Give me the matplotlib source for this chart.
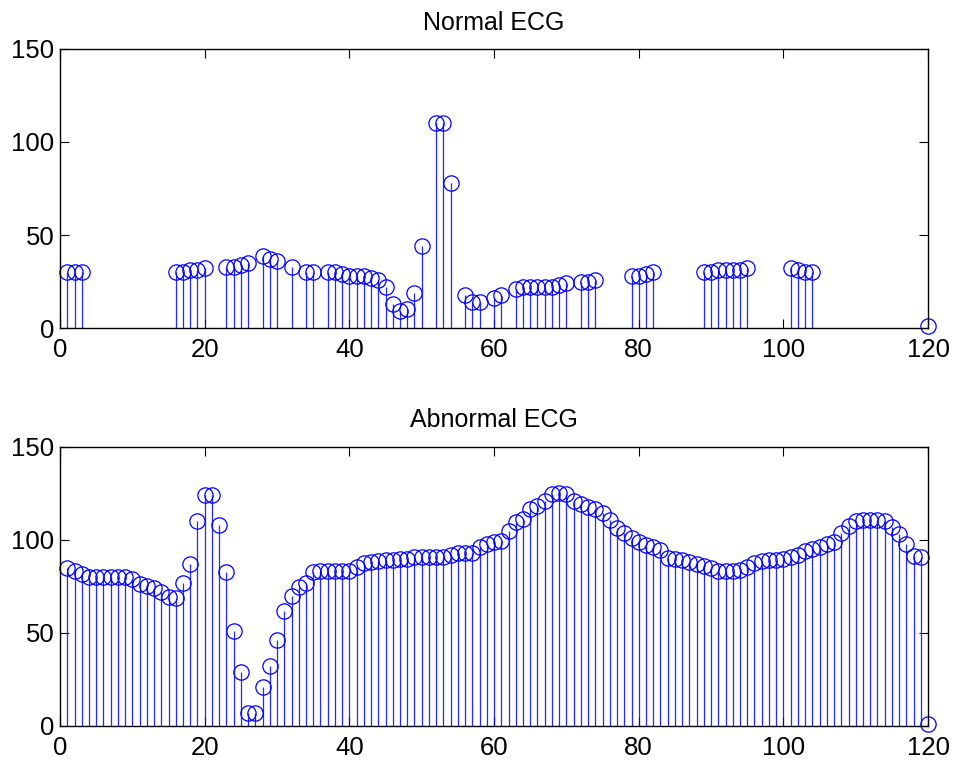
import numpy as np
import matplotlib
matplotlib.use('Agg')
from matplotlib import pyplot as plt

plt.rcParams['font.family'] = ['Liberation Sans', 'DejaVu Sans']

# normal ECG: only the samples that have a value
normal_x = [1, 2, 3, 16, 17, 18, 19, 20, 23, 24, 25, 26, 28, 29, 30, 32, 34, 35,
            37, 38, 39, 40, 41, 42, 43, 44, 45, 46, 47, 48, 49, 50, 52, 53, 54,
            56, 57, 58, 60, 61, 63, 64, 65, 66, 67, 68, 69, 70, 72, 73, 74,
            79, 80, 81, 82, 89, 90, 91, 92, 93, 94, 95, 101, 102, 103, 104, 120]
normal_y = [30, 30, 30, 30, 30, 31, 31, 32, 33, 33, 34, 35, 38.5, 37, 36, 33, 30, 30,
            30, 30, 29, 28, 28, 28, 27, 26, 22, 13, 9, 10, 19, 44, 110, 110, 78,
            18, 14, 14, 16, 18, 21, 22, 22, 22, 22, 22, 23, 24, 25, 25, 26,
            28, 28, 29, 30, 30, 30, 31, 31, 31, 31, 32, 32, 31, 30, 30, 1]

# abnormal ECG, samples 1..120
abnormal_x = list(range(1, 121))
abnormal_y = [84.7, 83.4, 81.6, 80, 80, 80, 80, 80, 80, 79,
              76, 75, 74, 72, 69.5, 69, 77, 87, 110, 124,
              124, 108, 82.5, 51, 29, 7, 7, 21, 32, 46,
              62, 70, 74.5, 77, 82.5, 83.5, 83.5, 83.5, 83.5, 83.5,
              85.5, 87.5, 88, 88.8, 89, 89.3, 89.7, 89.7, 90.9, 91,
              91, 91, 91, 92, 93, 93, 93, 96, 97.7, 98.6,
              99.5, 104.8, 109.3, 111, 116.4, 118.2, 121, 124.4, 125.3, 124.8,
              121, 119, 117.6, 116.4, 114.6, 110.5, 106.2, 103.5, 101.2, 99,
              97, 96, 94.5, 90, 89.7, 89, 88, 87, 86, 85,
              83.4, 83.4, 83.4, 83.8, 85.6, 87.3, 88.8, 89, 89, 89.7,
              91, 92, 94, 95, 96.3, 97.7, 98.6, 103.4, 107.5, 110.2,
              110.5, 110.5, 110.5, 110.2, 106.6, 103, 98, 91.4, 91, 1]

titles = ['Normal ECG', 'Abnormal ECG']

fig = plt.figure(figsize=(9.56, 7.65), dpi=100)
ax1 = fig.add_axes([0.0628, 0.5712, 0.908, 0.3648])
ax2 = fig.add_axes([0.0628, 0.0510, 0.908, 0.3651])

for ax, xs, ys, t in [(ax1, normal_x, normal_y, titles[0]),
                      (ax2, abnormal_x, abnormal_y, titles[1])]:
    m, s, b = ax.stem(xs, ys, linefmt='-', markerfmt='o', basefmt=' ')
    s.set_color('#0000ff')
    s.set_linewidth(0.9)
    s.set_alpha(0.85)
    m.set_markerfacecolor('none')
    m.set_markeredgecolor('#0000ff')
    m.set_markersize(11)
    m.set_markeredgewidth(0.9)
    m.set_clip_on(False)
    ax.set_xlim(0, 120)
    ax.set_ylim(0, 150)
    ax.set_xticks(np.arange(0, 121, 20))
    ax.set_yticks([0, 50, 100, 150])
    ax.tick_params(direction='in', top=True, right=True, length=6.5,
                   width=0.8, labelsize=18.5)
    ax.tick_params(axis='y', pad=4)
    ax.tick_params(axis='x', pad=7)
    for sp in ax.spines.values():
        sp.set_linewidth(1.0)
    ax.set_title(t, fontsize=18, pad=14)

fig.savefig('out.png', dpi=100)
